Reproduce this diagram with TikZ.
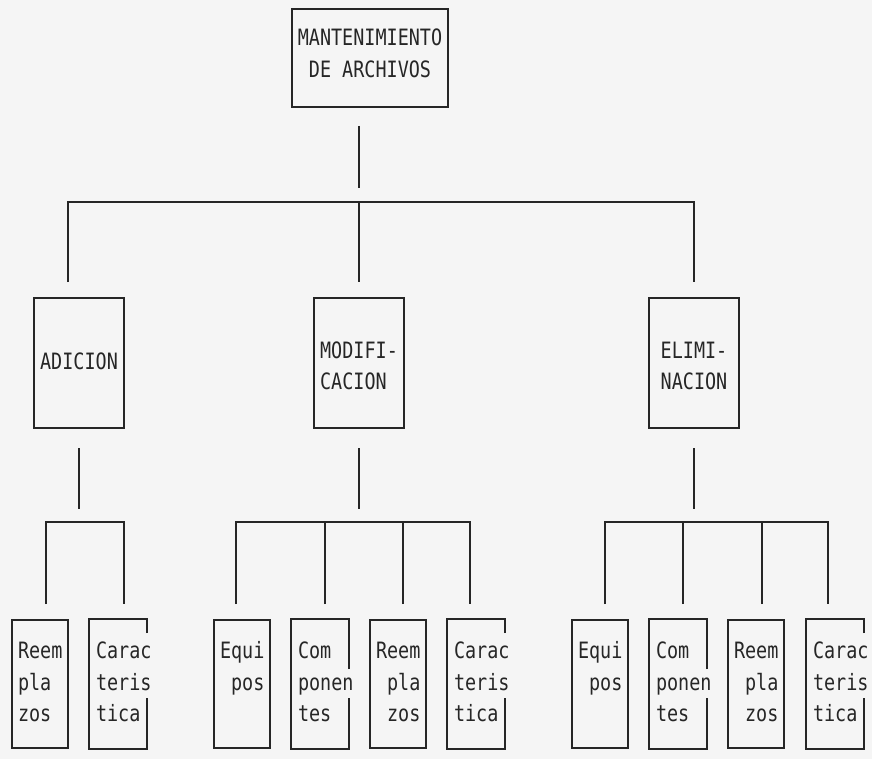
\documentclass[tikz,border=0pt]{standalone}
\usepackage{fontspec}
\newfontfamily\matriz[FakeStretch=0.82]{DejaVu Sans Mono}

\tikzset{
  caja/.style={draw, line width=2pt, black!85, inner sep=0pt, align=left,
    font=\matriz\fontsize{22.5}{31.5}\selectfont,
    execute at begin node={\hyphenpenalty=10000\strut},
    execute at end node=\strut},
  jefe/.style={caja, minimum width=156pt, minimum height=98pt, align=center},
  rama/.style={caja, minimum width=90pt, minimum height=130pt},
  hoja/.style={caja, minimum width=56pt, minimum height=128pt, text width=44pt},
  hojaabierta/.style={hoja, draw=none},
  linea/.style={line width=2pt, black!85}
}

\begin{document}
\begin{tikzpicture}[x=1pt, y=1pt]

\fill[black!4] (0,0) rectangle (872,-759);
\useasboundingbox (0,0) rectangle (872,-759);

\node[jefe] (arch) at (370,-58) {MANTENIMIENTO\\DE ARCHIVOS};

\node[rama] (adicion) at (79,-363) {ADICION};
\node[rama] (modif) at (359,-363) {\\MODIFI-\\CACION};
\node[rama] (elim) at (694,-363) {\\ELIMI-\\NACION};

\node[hoja] (adReem) at (40,-684) {Reem\\pla\\zos};
\node[hojaabierta] (adCarac) at (118,-684) {Carac\\teris\\tica};

\node[hoja] (moEqui) at (242,-684) {Equi\\\hphantom{E}pos\\};
\node[hojaabierta] (moComp) at (320,-684) {Com\\ponen\\tes};
\node[hoja] (moReem) at (398,-684) {Reem\\\hphantom{R}pla\\\hphantom{R}zos};
\node[hojaabierta] (moCarac) at (476,-684) {Carac\\teris\\tica};

\node[hoja] (elEqui) at (600,-684) {Equi\\\hphantom{E}pos\\};
\node[hojaabierta] (elComp) at (678,-684) {Com\\ponen\\tes};
\node[hoja] (elReem) at (756,-684) {Reem\\\hphantom{R}pla\\\hphantom{R}zos};
\node[hojaabierta] (elCarac) at (835,-684) {Carac\\teris\\tica};

% bordes abiertos
\foreach \n/\g in {adCarac/14, moCarac/14, elCarac/14, moComp/50, elComp/50}
  \draw[linea] ([yshift=-\g pt]\n.north east) |- (\n.north west) |- (\n.south east) -- ([yshift=51pt]\n.south east);

% primer nivel
\draw[linea] ([xshift=-11pt,yshift=-18pt]arch.south) -- ([xshift=-11pt,yshift=-80pt]arch.south);
\draw[linea] ([xshift=-11pt,yshift=15pt]adicion.north) |- ([yshift=95pt]elim.north) -- ([yshift=15pt]elim.north);
\draw[linea] ([yshift=95pt]modif.north) -- ([yshift=15pt]modif.north);

% segundo nivel
\draw[linea] ([yshift=-19pt]adicion.south) -- ([yshift=-80pt]adicion.south);
\draw[linea] ([xshift=6pt,yshift=15pt]adReem.north) |- ([xshift=6pt,yshift=97pt]adCarac.north) -- ([xshift=6pt,yshift=15pt]adCarac.north);

\draw[linea] ([yshift=-19pt]modif.south) -- ([yshift=-80pt]modif.south);
\draw[linea] ([xshift=-6pt,yshift=15pt]moEqui.north) |- ([xshift=-6pt,yshift=97pt]moCarac.north) -- ([xshift=-6pt,yshift=15pt]moCarac.north);
\draw[linea] ([xshift=5pt,yshift=15pt]moComp.north) -- ([xshift=5pt,yshift=97pt]moComp.north);
\draw[linea] ([xshift=5pt,yshift=15pt]moReem.north) -- ([xshift=5pt,yshift=97pt]moReem.north);

\draw[linea] ([yshift=-19pt]elim.south) -- ([yshift=-80pt]elim.south);
\draw[linea] ([xshift=5pt,yshift=15pt]elEqui.north) |- ([xshift=-7pt,yshift=97pt]elCarac.north) -- ([xshift=-7pt,yshift=15pt]elCarac.north);
\draw[linea] ([xshift=5pt,yshift=15pt]elComp.north) -- ([xshift=5pt,yshift=97pt]elComp.north);
\draw[linea] ([xshift=6pt,yshift=15pt]elReem.north) -- ([xshift=6pt,yshift=97pt]elReem.north);

\end{tikzpicture}
\end{document}
